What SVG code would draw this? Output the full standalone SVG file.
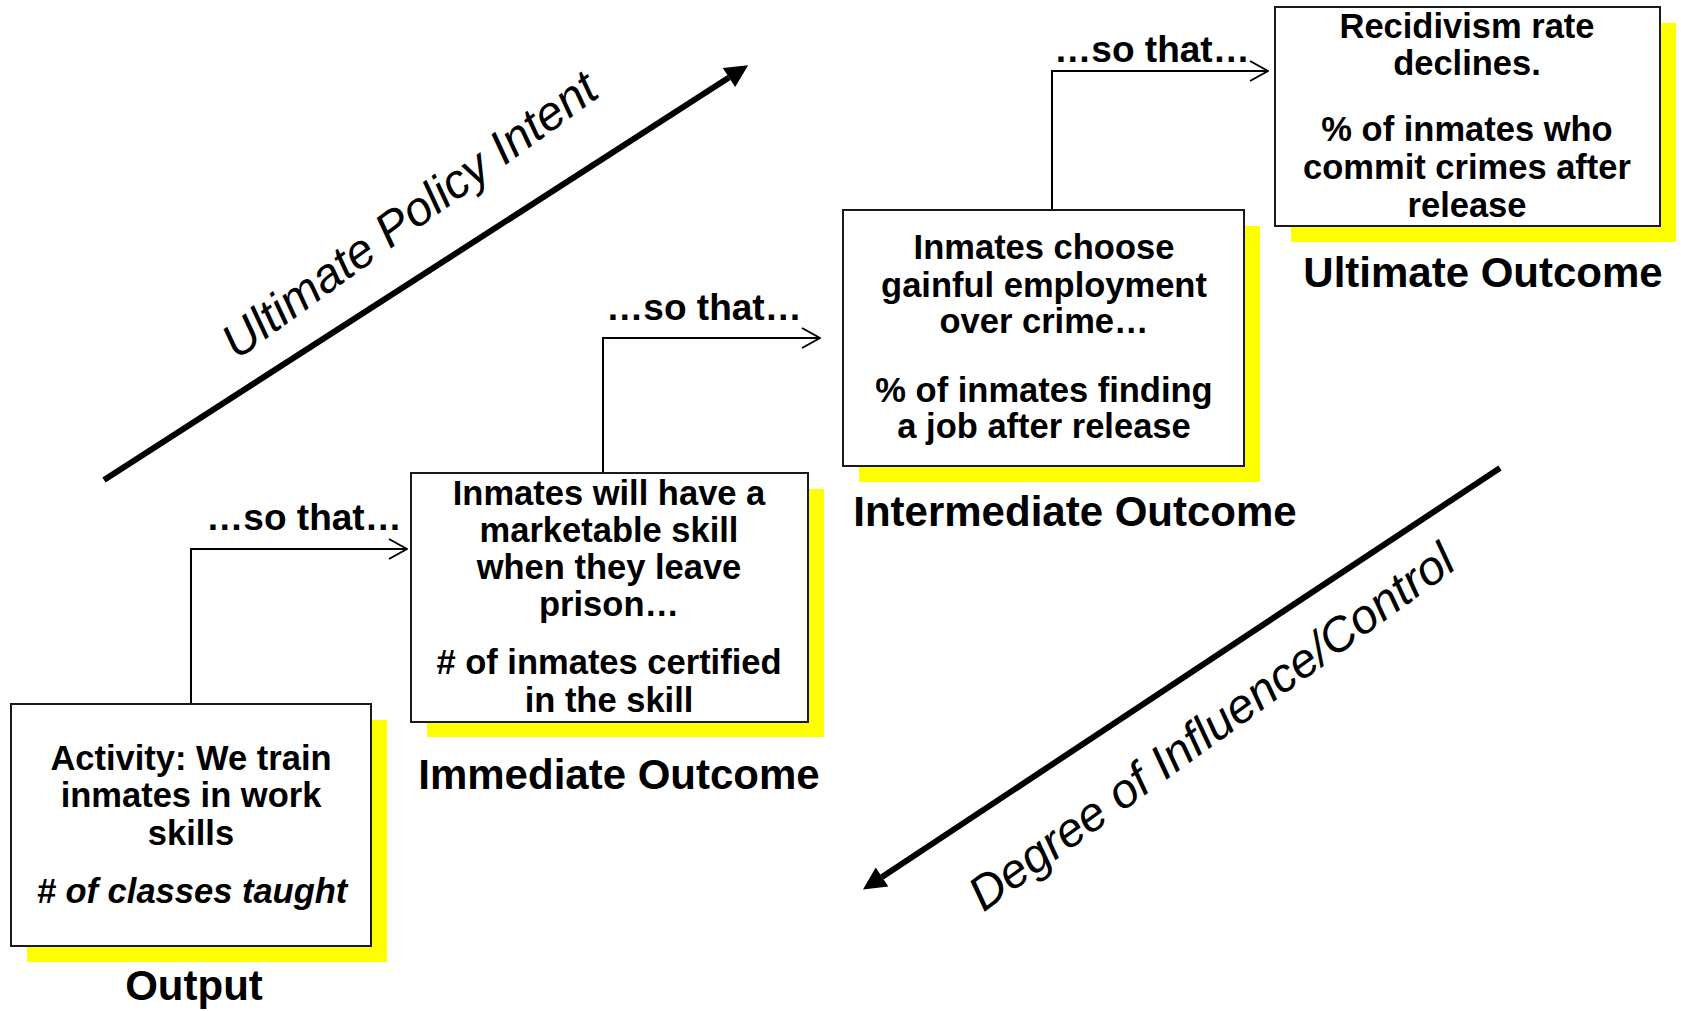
<svg xmlns="http://www.w3.org/2000/svg" width="1681" height="1011" viewBox="0 0 1681 1011">
<style>
.shadow{fill:#FFFF00;stroke:none}
.box{fill:#fff;stroke:#1a1a1a;stroke-width:2}
.body{font-family:"Liberation Sans",Arial,sans-serif;font-weight:bold;font-size:34.5px;fill:#000;text-anchor:middle}
.bi{font-style:italic}
.label{font-family:"Liberation Sans",Arial,sans-serif;font-weight:bold;font-size:42px;fill:#000;text-anchor:middle}
.sothat{font-family:"Liberation Sans",Arial,sans-serif;font-weight:bold;font-size:37px;fill:#000;text-anchor:middle}
.axis{font-family:"Liberation Sans",Arial,sans-serif;font-style:italic;font-size:48px;fill:#000;text-anchor:middle}
.conn{fill:none;stroke:#000;stroke-width:2}
.big{fill:none;stroke:#000;stroke-width:6}
</style>
<defs>
<marker id="open" viewBox="0 0 20 24" refX="19" refY="12" markerWidth="20" markerHeight="24" markerUnits="userSpaceOnUse" orient="auto">
<path d="M1,2 L19,12 L1,22" fill="none" stroke="#000" stroke-width="2"/>
</marker>
<marker id="solid" viewBox="0 0 10 10" refX="0" refY="5" markerWidth="4.3" markerHeight="3.8" markerUnits="strokeWidth" orient="auto">
<path d="M0,0 L10,5 L0,10 z" fill="#000"/>
</marker>
</defs>
<rect width="1681" height="1011" fill="#fff"/>

<g id="connectors">
<path class="conn" d="M191,704 V549 H407" marker-end="url(#open)"/>
<path class="conn" d="M603,473 V338 H820" marker-end="url(#open)"/>
<path class="conn" d="M1052,210 V71 H1268" marker-end="url(#open)"/>
<text class="sothat" x="304" y="530">…so that…</text>
<text class="sothat" x="704" y="320">…so that…</text>
<text class="sothat" x="1152" y="62">…so that…</text>
</g>

<g id="axis-policy">
<line class="big" x1="104" y1="480" x2="729" y2="77.5" marker-end="url(#solid)"/>
<text class="axis" transform="translate(419,228) rotate(-36)">Ultimate Policy Intent</text>
</g>

<g id="axis-influence">
<line class="big" x1="1500" y1="468" x2="882" y2="877" marker-end="url(#solid)"/>
<text class="axis" transform="translate(1221,740) rotate(-36)">Degree of Influence/Control</text>
</g>

<g id="node-output">
<rect class="shadow" x="27" y="720" width="360" height="242"/>
<rect class="box" x="11" y="704" width="360" height="242"/>
<text class="body" x="191" y="770">Activity: We train</text>
<text class="body" x="191" y="807">inmates in work</text>
<text class="body" x="191" y="845">skills</text>
<text class="body bi" x="192" y="903"># of classes taught</text>
<text class="label" x="194" y="1000">Output</text>
</g>

<g id="node-immediate">
<rect class="shadow" x="427" y="489" width="397" height="248"/>
<rect class="box" x="411" y="473" width="397" height="249"/>
<text class="body" x="609" y="505">Inmates will have a</text>
<text class="body" x="609" y="542">marketable skill</text>
<text class="body" x="609" y="579">when they leave</text>
<text class="body" x="609" y="616">prison…</text>
<text class="body" x="609" y="674"># of inmates certified</text>
<text class="body" x="609" y="712">in the skill</text>
<text class="label" x="619" y="789">Immediate Outcome</text>
</g>

<g id="node-intermediate">
<rect class="shadow" x="859" y="226" width="401" height="256"/>
<rect class="box" x="843" y="210" width="401" height="256"/>
<text class="body" x="1044" y="259">Inmates choose</text>
<text class="body" x="1044" y="297">gainful employment</text>
<text class="body" x="1044" y="333">over crime…</text>
<text class="body" x="1044" y="402">% of inmates finding</text>
<text class="body" x="1044" y="438">a job after release</text>
<text class="label" x="1075" y="526">Intermediate Outcome</text>
</g>

<g id="node-ultimate">
<rect class="shadow" x="1291" y="23" width="385" height="219"/>
<rect class="box" x="1275" y="7" width="385" height="219"/>
<text class="body" x="1467" y="38">Recidivism rate</text>
<text class="body" x="1467" y="75">declines.</text>
<text class="body" x="1467" y="141">% of inmates who</text>
<text class="body" x="1467" y="179">commit crimes after</text>
<text class="body" x="1467" y="217">release</text>
<text class="label" x="1483" y="287">Ultimate Outcome</text>
</g>
</svg>
